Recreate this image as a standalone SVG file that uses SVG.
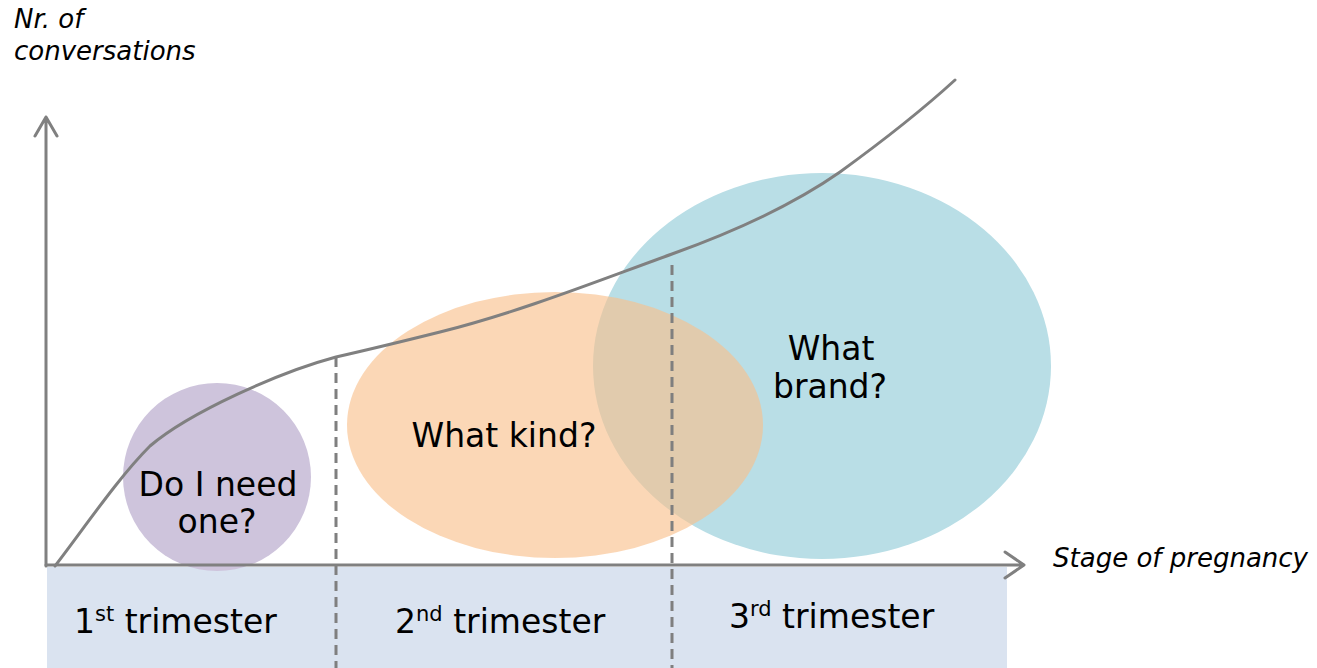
<svg xmlns="http://www.w3.org/2000/svg" width="1317" height="668" viewBox="0 0 1317 668">
<style>
.ax{fill:none;stroke:#808080;stroke-width:3;stroke-linecap:round;stroke-linejoin:round}
.dash{fill:none;stroke:#7f7f7f;stroke-width:3;stroke-dasharray:10 6}
.lbl{font-family:"DejaVu Sans",Verdana,sans-serif;font-size:33px;fill:#000}
.ital{font-family:"DejaVu Sans",Verdana,sans-serif;font-size:26px;font-style:italic;fill:#000}
.sup{font-size:21px}
</style>
<rect id="band" x="47" y="567" width="960" height="101" fill="#dae3f0"/>
<g id="node-brand">
<ellipse cx="822" cy="366" rx="229" ry="193" fill="#b9dee6"/>
<text class="lbl" x="831" y="360" text-anchor="middle">What</text>
<text class="lbl" x="830" y="398" text-anchor="middle">brand?</text>
</g>
<g id="node-kind">
<ellipse cx="555" cy="425" rx="208" ry="133" fill="#f8c08c" fill-opacity="0.63"/>
<text class="lbl" x="504" y="447" text-anchor="middle">What kind?</text>
</g>
<g id="node-need">
<circle cx="217" cy="477" r="94" fill="#cec4dc"/>
<text class="lbl" x="218" y="496" text-anchor="middle">Do I need</text>
<text class="lbl" x="217" y="533" text-anchor="middle">one?</text>
</g>
<g id="connectors">
<line class="dash" x1="336" y1="357" x2="336" y2="668"/>
<line class="dash" x1="672" y1="265" x2="672" y2="668"/>
<path class="ax" d="M55,566 C85,527 118,478 150,446 C190,412 280,372 336,357 C380,347 400,342 440,332 C520,312 600,280 672,254 C750,226 800,200 840,172 C880,143 920,112 955,80"/>
<path class="ax" d="M46,566 V117 M35,136 L46,117 L57,136"/>
<path class="ax" d="M46,565 H1023 M1005,552 L1024,565 L1005,578"/>
</g>
<g id="axis-labels">
<text class="ital" x="14" y="28">Nr. of</text>
<text class="ital" x="14" y="60">conversations</text>
<text class="ital" x="1053" y="567">Stage of pregnancy</text>
</g>
<g id="trimesters">
<text class="lbl" x="74" y="633">1<tspan class="sup" dy="-12">st</tspan><tspan dy="12"> trimester</tspan></text>
<text class="lbl" x="395" y="633">2<tspan class="sup" dy="-12">nd</tspan><tspan dy="12"> trimester</tspan></text>
<text class="lbl" x="729" y="628">3<tspan class="sup" dy="-12">rd</tspan><tspan dy="12"> trimester</tspan></text>
</g>
</svg>
